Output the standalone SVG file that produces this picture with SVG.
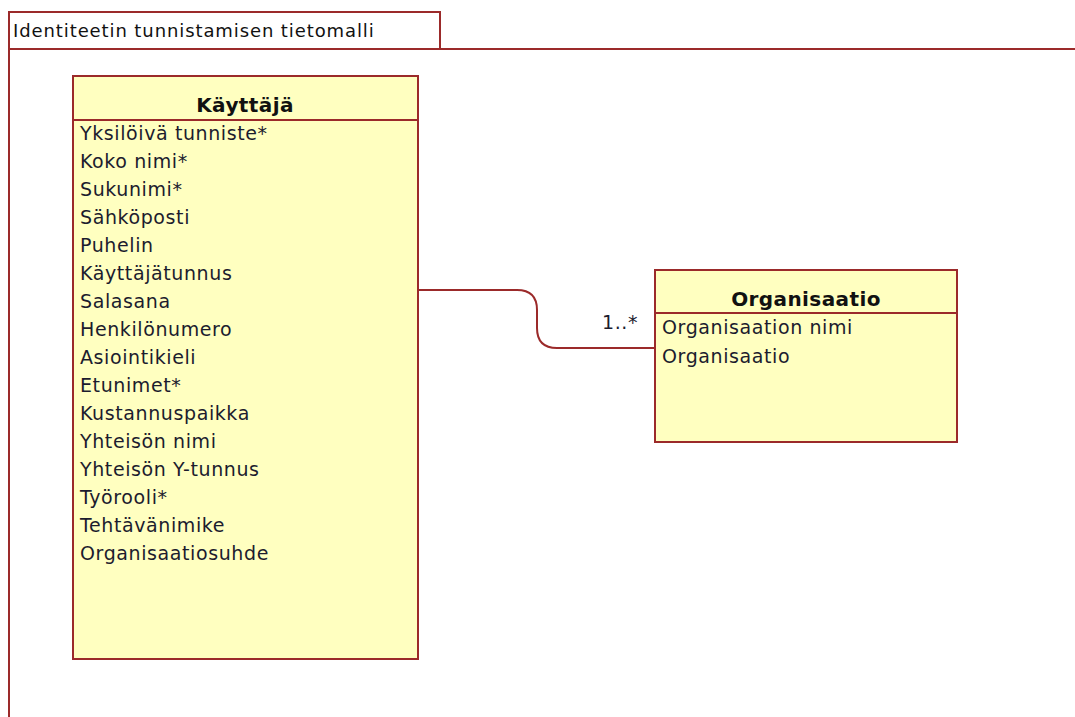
<svg xmlns="http://www.w3.org/2000/svg" width="1075" height="717" viewBox="0 0 1075 717">
<style>
.frame{fill:none;stroke:#9b2a2a;stroke-width:2}
.box{fill:#ffffc0;stroke:#9b2a2a;stroke-width:2}
.sep{stroke:#9b2a2a;stroke-width:2}
.conn{fill:none;stroke:#9b2a2a;stroke-width:2}
.t{font-family:"DejaVu Sans",Verdana,sans-serif;font-size:19px;letter-spacing:0.6px;fill:#1c1c2e}
.h{font-family:"DejaVu Sans",Verdana,sans-serif;font-size:20px;letter-spacing:0.4px;font-weight:bold;fill:#111;text-anchor:middle}
.title{font-family:"DejaVu Sans",Verdana,sans-serif;font-size:18px;letter-spacing:0.9px;fill:#111}
</style>
<rect width="1075" height="717" fill="#ffffff"/>
<g id="frame">
<rect class="frame" x="9" y="12" width="431" height="37"/>
<line class="frame" x1="9" y1="49" x2="1075" y2="49"/>
<line class="frame" x1="9" y1="49" x2="9" y2="717"/>
<text class="title" x="13" y="37">Identiteetin tunnistamisen tietomalli</text>
</g>
<g id="connectors">
<path class="conn" d="M418,290 H517 Q537,290 537,310 V328 Q537,348 557,348 H655"/>
<text class="t" x="602" y="329">1..*</text>
</g>
<g id="kayttaja">
<rect class="box" x="73" y="76" width="345" height="583"/>
<line class="sep" x1="73" y1="120" x2="418" y2="120"/>
<text class="h" x="245" y="112">Käyttäjä</text>
<text class="t" x="80" y="140">Yksilöivä tunniste*</text>
<text class="t" x="80" y="168">Koko nimi*</text>
<text class="t" x="80" y="196">Sukunimi*</text>
<text class="t" x="80" y="224">Sähköposti</text>
<text class="t" x="80" y="252">Puhelin</text>
<text class="t" x="80" y="280">Käyttäjätunnus</text>
<text class="t" x="80" y="308">Salasana</text>
<text class="t" x="80" y="336">Henkilönumero</text>
<text class="t" x="80" y="364">Asiointikieli</text>
<text class="t" x="80" y="392">Etunimet*</text>
<text class="t" x="80" y="420">Kustannuspaikka</text>
<text class="t" x="80" y="448">Yhteisön nimi</text>
<text class="t" x="80" y="476">Yhteisön Y-tunnus</text>
<text class="t" x="80" y="504">Työrooli*</text>
<text class="t" x="80" y="532">Tehtävänimike</text>
<text class="t" x="80" y="560">Organisaatiosuhde</text>
</g>
<g id="organisaatio">
<rect class="box" x="655" y="270" width="302" height="172"/>
<line class="sep" x1="655" y1="313" x2="957" y2="313"/>
<text class="h" x="806" y="306">Organisaatio</text>
<text class="t" x="662" y="334">Organisaation nimi</text>
<text class="t" x="662" y="363">Organisaatio</text>
</g>
</svg>
